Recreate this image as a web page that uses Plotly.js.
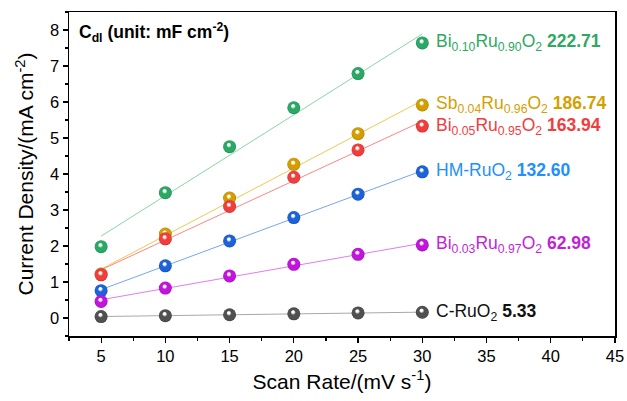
<!DOCTYPE html>
<html>
<head>
<meta charset="utf-8">
<script src="https://cdn.plot.ly/plotly-3.0.1.min.js"></script>
<style>html,body{margin:0;padding:0;background:#fff;} #chart{width:627px;height:401px;}</style>
</head>
<body>
<div id="chart"></div>
<script>
// ---- data ----
const scanRate = [5, 10, 15, 20, 25, 30];
const bi10 = [1.98, 3.48, 4.76, 5.84, 6.79, 7.64];
const sb04 = [1.22, 2.33, 3.33, 4.27, 5.12, 5.92];
const bi05 = [1.20, 2.20, 3.10, 3.91, 4.67, 5.33];
const hmRu = [0.76, 1.45, 2.14, 2.79, 3.44, 4.06];
const bi03 = [0.46, 0.83, 1.17, 1.49, 1.77, 2.03];
const cRu  = [0.04, 0.065, 0.09, 0.115, 0.14, 0.16];

const seriesNames = [
  'Bi<sub>0.10</sub>Ru<sub>0.90</sub>O<sub>2</sub>',
  'Sb<sub>0.04</sub>Ru<sub>0.96</sub>O<sub>2</sub>',
  'Bi<sub>0.05</sub>Ru<sub>0.95</sub>O<sub>2</sub>',
  'HM-RuO<sub>2</sub>',
  'Bi<sub>0.03</sub>Ru<sub>0.97</sub>O<sub>2</sub>',
  'C-RuO<sub>2</sub>'
];
const cdlValues = ['222.71', '186.74', '163.94', '132.60', '62.98', '5.33'];

// ---- styles ----
const seriesData = [bi10, sb04, bi05, hmRu, bi03, cRu];
const markerColors = ['#2aa865', '#d39e00', '#f23d3d', '#1c62db', '#c214dc', '#505050'];
const lineColors   = ['#86d8a6', '#f0c850', '#ff8585', '#78a6ee', '#e27cf2', '#a8a8a8'];
const textColors   = ['#2ea862', '#d4a000', '#f23d3d', '#1e90ff', '#c21fd8', '#111111'];

function linfit(x, y) {
  const n = x.length;
  const mx = x.reduce((a, b) => a + b, 0) / n;
  const my = y.reduce((a, b) => a + b, 0) / n;
  let sxy = 0, sxx = 0;
  for (let i = 0; i < n; i++) { sxy += (x[i] - mx) * (y[i] - my); sxx += (x[i] - mx) ** 2; }
  const b = sxy / sxx;
  return x.map(v => my + b * (v - mx));
}

const font = 'Liberation Sans, Arial, sans-serif';
const traces = [];
const annotations = [];
seriesData.forEach((y, i) => {
  traces.push({
    x: scanRate, y: linfit(scanRate, y), mode: 'lines', type: 'scatter',
    line: {color: lineColors[i], width: 1}, hoverinfo: 'skip', showlegend: false
  });
});
seriesData.forEach((y, i) => {
  traces.push({
    x: scanRate, y: y, mode: 'markers', type: 'scatter', showlegend: false,
    marker: {size: 13, color: markerColors[i], line: {width: 0},
             gradient: {type: 'radial', color: '#ffffff'}}
  });
  annotations.push({
    x: scanRate[scanRate.length - 1], y: y[y.length - 1], xref: 'x', yref: 'y',
    xanchor: 'left', yanchor: 'middle', xshift: 12, showarrow: false,
    text: seriesNames[i] + ' <b>' + cdlValues[i] + '</b>',
    font: {family: font, size: 17.5, color: textColors[i]}
  });
});
annotations.push({
  x: 0.014, y: 0.98, xref: 'paper', yref: 'paper', xanchor: 'left', yanchor: 'top',
  showarrow: false, text: '<b>C<sub>dl</sub> (unit: mF cm<sup>-2</sup>)</b>',
  font: {family: font, size: 17.5, color: '#000'}
});

const layout = {
  width: 627, height: 401,
  margin: {l: 69, r: 12, t: 12, b: 65},
  paper_bgcolor: '#fff', plot_bgcolor: '#fff',
  font: {family: font, size: 16, color: '#000'},
  xaxis: {
    range: [2.5, 45], tickvals: [5, 10, 15, 20, 25, 30, 35, 40, 45],
    ticks: 'outside', ticklen: 5, tickwidth: 1.2, tickcolor: '#000',
    minor: {dtick: 2.5, tick0: 2.5, ticks: 'outside', ticklen: 3, tickwidth: 1.2, tickcolor: '#000', showgrid: false},
    showline: true, linecolor: '#000', linewidth: 1.5, mirror: true,
    showgrid: false, zeroline: false,
    tickfont: {family: font, size: 16.5},
    title: {text: 'Scan Rate/(mV s<sup>-1</sup>)', font: {family: font, size: 21}, standoff: 10}
  },
  yaxis: {
    range: [-0.5, 8.5], tickvals: [0, 1, 2, 3, 4, 5, 6, 7, 8],
    ticks: 'outside', ticklen: 5, tickwidth: 1.2, tickcolor: '#000',
    minor: {dtick: 0.5, tick0: -0.5, ticks: 'outside', ticklen: 3, tickwidth: 1.2, tickcolor: '#000', showgrid: false},
    showline: true, linecolor: '#000', linewidth: 1.5, mirror: true,
    showgrid: false, zeroline: false,
    tickfont: {family: font, size: 16.5},
    title: {text: 'Current Density/(mA cm<sup>-2</sup>)', font: {family: font, size: 21}, standoff: 10}
  },
  annotations: annotations
};

function darken(hex, f) {
  const m = hex.match(/\d+/g);
  if (!m) return hex;
  return 'rgb(' + m.slice(0, 3).map(v => Math.round(v * f)).join(',') + ')';
}

Plotly.newPlot('chart', traces, layout, {displayModeBar: false, staticPlot: true}).then(gd => {
  // restyle radial gradients into glossy spheres (off-center highlight)
  gd.querySelectorAll('radialGradient').forEach(g => {
    const stops = Array.from(g.querySelectorAll('stop'));
    let base = null;
    stops.forEach(s => {
      const c = s.getAttribute('stop-color');
      if (c && !/255,\s*255,\s*255/.test(c) && c.toLowerCase() !== '#ffffff' && c.toLowerCase() !== 'white') base = c;
    });
    if (!base) return;
    stops.forEach(s => s.remove());
    g.setAttribute('cx', '0.5'); g.setAttribute('cy', '0.5'); g.setAttribute('r', '0.5');
    g.setAttribute('fx', '0.42'); g.setAttribute('fy', '0.32');
    const ns = 'http://www.w3.org/2000/svg';
    [[0, '#ffffff', 1], [0.18, '#ffffff', 0.85], [0.4, base, 1], [0.85, base, 1], [1, darken(base, 0.8), 1]].forEach(st => {
      const s = document.createElementNS(ns, 'stop');
      s.setAttribute('offset', (st[0] * 100) + '%');
      s.setAttribute('stop-color', st[1]);
      s.setAttribute('stop-opacity', st[2]);
      g.appendChild(s);
    });
  });
});
</script>
</body>
</html>
